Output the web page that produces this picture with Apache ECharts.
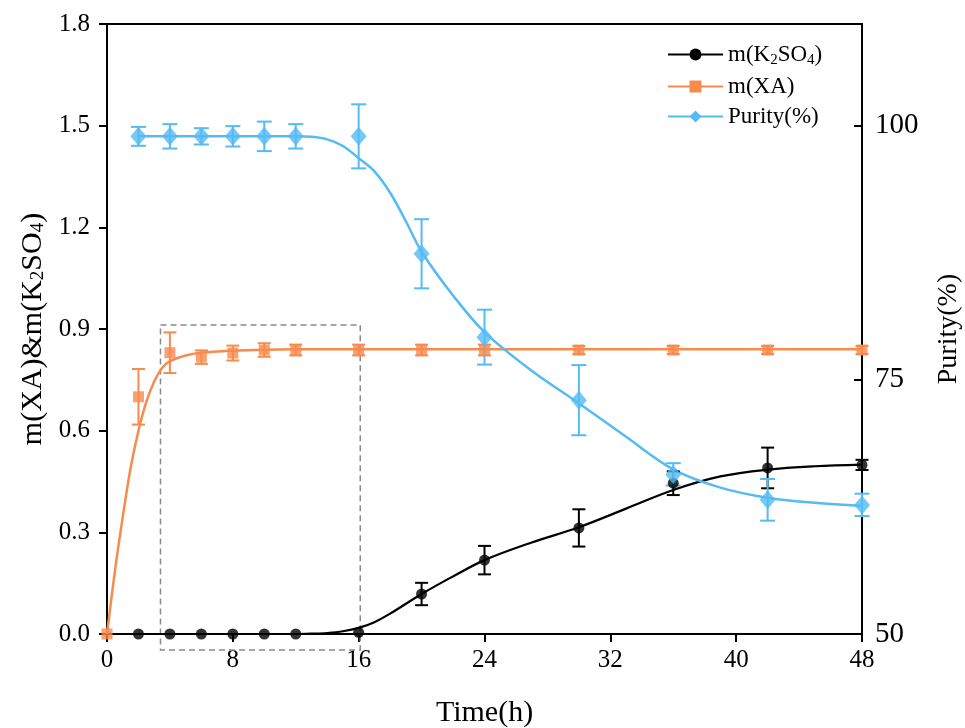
<!DOCTYPE html>
<html><head><meta charset="utf-8">
<script src="https://cdn.jsdelivr.net/npm/echarts@6/dist/echarts.min.js"></script>
<style>html,body{margin:0;padding:0;background:#fff}#c{width:965px;height:728px}</style>
</head><body><div id="c"></div>
<script>
// ---- data ----
const timeK = [2,4,6,8,10,12,16,20,24,30,36,42,48];
const k2so4 = [0,0,0,0,0,0,0.005,0.118,0.218,0.313,0.445,0.49,0.499];
const k2so4Err = [0,0,0,0,0,0,0,0.033,0.042,0.055,0.035,0.06,0.015];

const timeXA = [0,2,4,6,8,10,12,16,20,24,30,36,42,48];
const xa = [0,0.70,0.83,0.817,0.829,0.838,0.838,0.838,0.838,0.838,0.838,0.838,0.838,0.838];
const xaErr = [0,0.082,0.06,0.02,0.022,0.02,0.016,0.016,0.016,0.016,0.012,0.012,0.012,0.012];

const timeP = [2,4,6,8,10,12,16,20,24,30,36,42,48];
const purity = [98.95,98.95,98.95,98.95,98.95,98.95,98.95,87.4,79.2,73.0,65.7,63.2,62.7];
const purityErr = [0.93,1.2,0.8,1.0,1.45,1.2,3.15,3.4,2.7,3.45,1.1,2.05,1.1];

// fitted curves
const kFitT = [0,12,13,14,15,16,17,18,20,22,24,27,30,33,36,39,42,45,48];
const kFit = [0,0,0.001,0.003,0.008,0.018,0.035,0.06,0.118,0.17,0.218,0.27,0.315,0.37,0.425,0.465,0.485,0.495,0.5];
const xaFitT = [0,0.5,1,1.5,2,2.5,3,3.5,4,5,6,8,10,12,48];
const xaFit = [0,0.185,0.345,0.49,0.6,0.685,0.745,0.785,0.805,0.822,0.83,0.836,0.839,0.84,0.84];
const purFitT = [2,12,13,14,15,16,17,18,19,20,22,24,27,30,33,36,39,42,45,48];
const purFit = [98.95,98.95,98.9,98.65,98.0,96.8,95.5,93.4,90.6,87.6,83.3,79.7,75.9,72.7,69.4,66.2,64.4,63.4,62.9,62.6];

// dashed highlight box (data coords)
const boxT = [3.4, 16.1];
const boxV = [-0.047, 0.912];

const xTicks = [0,8,16,24,32,40,48];
const leftTicks = [0,0.3,0.6,0.9,1.2,1.5,1.8];
const rightTicks = [50,75,100];

const BLACK = '#000000', ORANGE = '#F78A4D', BLUE = '#55BBF3';
const FONT = 'Liberation Serif';

function pairs(ts, vs){ return ts.map((t,i)=>[t, vs[i]]); }

function errSeries(ts, vs, es, color, yAxisIndex, capW, z){
  return {
    type:'custom', yAxisIndex, z, silent:true, clip:false,
    data: ts.map((t,i)=>[t, vs[i], es[i]]),
    renderItem: function(params, api){
      const t = api.value(0), v = api.value(1), e = api.value(2);
      if (!e) return null;
      const a = api.coord([t, v+e]), b = api.coord([t, v-e]);
      const st = {stroke: color, lineWidth: 2};
      return {type:'group', children:[
        {type:'line', shape:{x1:a[0], y1:a[1], x2:b[0], y2:b[1]}, style:st},
        {type:'line', shape:{x1:a[0]-capW/2, y1:a[1], x2:a[0]+capW/2, y2:a[1]}, style:st},
        {type:'line', shape:{x1:b[0]-capW/2, y1:b[1], x2:b[0]+capW/2, y2:b[1]}, style:st}
      ]};
    }
  };
}

const rich = {
  n: {fontFamily: FONT, fontSize: 23, color:'#000'},
  s: {fontFamily: FONT, fontSize: 15, color:'#000', padding:[12,0,0,0]}
};
const axisRich = {
  n: {fontFamily: FONT, fontSize: 30, color:'#000'},
  s: {fontFamily: FONT, fontSize: 19, color:'#000', verticalAlign:'bottom'}
};

const chart = echarts.init(document.getElementById('c'), null, {renderer:'canvas'});
chart.setOption({
  animation:false,
  backgroundColor:'#fff',
  grid:{left:107, right:103, top:24, bottom:94, show:true, borderColor:'#000', borderWidth:2,
    containLabel:false, outerBoundsMode:'none'},
  legend:{
    data:['m(K2SO4)','m(XA)','Purity(%)'],
    orient:'vertical', left:662, top:38, itemWidth:55, itemHeight:15, itemGap:7,
    textStyle:{fontFamily:FONT, fontSize:23, color:'#000', rich},
    formatter: function(name){
      if (name==='m(K2SO4)') return '{n|m(K}{s|2}{n|SO}{s|4}{n|)}';
      return '{n|'+name+'}';
    }
  },
  xAxis:{
    type:'value', min:0, max:48, interval:8,
    name:'Time(h)', nameLocation:'middle', nameGap:64,
    nameTextStyle:{fontFamily:FONT, fontSize:30, color:'#000'},
    axisLine:{lineStyle:{color:'#000', width:2}},
    axisTick:{length:8, lineStyle:{color:'#000', width:2}, customValues:xTicks},
    axisLabel:{fontFamily:FONT, fontSize:25, color:'#000', margin:14, customValues:xTicks},
    splitLine:{show:false}
  },
  yAxis:[{
    type:'value', min:0, max:1.8, interval:0.3, position:'left',
    name:'{n|m(XA)&m(K}{s|2}{n|SO}{s|4}{n|)}', nameLocation:'middle', nameGap:57,
    nameTextStyle:{fontFamily:FONT, fontSize:30, color:'#000', rich:axisRich},
    axisLine:{show:true, lineStyle:{color:'#000', width:2}},
    axisTick:{show:true, length:8, lineStyle:{color:'#000', width:2}, customValues:leftTicks},
    axisLabel:{fontFamily:FONT, fontSize:25, color:'#000', margin:17, customValues:leftTicks,
      formatter:v=>Number(v).toFixed(1)},
    splitLine:{show:false}
  },{
    type:'value', min:50, max:110, interval:25, position:'right',
    name:'Purity(%)', nameLocation:'middle', nameGap:73,
    nameTextStyle:{fontFamily:FONT, fontSize:28, color:'#000'},
    axisLine:{show:true, lineStyle:{color:'#000', width:2}},
    axisTick:{show:true, inside:true, length:8, lineStyle:{color:'#000', width:2}, customValues:rightTicks},
    axisLabel:{fontFamily:FONT, fontSize:29, color:'#000', margin:13, customValues:rightTicks},
    splitLine:{show:false}
  }],
  series:[
    {name:'m(K2SO4)', type:'line', yAxisIndex:0, data:pairs(kFitT,kFit), smooth:0.35,
      symbol:'circle', showSymbol:false, lineStyle:{color:BLACK, width:2.2}, itemStyle:{color:BLACK}, z:3},
    {name:'m(XA)', type:'line', yAxisIndex:0, data:pairs(xaFitT,xaFit), smooth:0.35,
      symbol:'rect', showSymbol:false, lineStyle:{color:ORANGE, width:2.5}, itemStyle:{color:ORANGE}, z:4},
    {name:'Purity(%)', type:'line', yAxisIndex:1, data:pairs(purFitT,purFit), smooth:0.35,
      symbol:'diamond', showSymbol:false, lineStyle:{color:BLUE, width:2.5}, itemStyle:{color:BLUE}, z:5},
    errSeries(timeK, k2so4, k2so4Err, BLACK, 0, 13, 6),
    errSeries(timeXA, xa, xaErr, ORANGE, 0, 13, 7),
    errSeries(timeP, purity, purityErr, BLUE, 1, 15, 8),
    {name:'kPts', type:'scatter', yAxisIndex:0, data:pairs(timeK,k2so4), symbol:'circle', symbolSize:11,
      itemStyle:{color:BLACK}, z:9, clip:false},
    {name:'xaPts', type:'scatter', yAxisIndex:0, data:pairs(timeXA,xa), symbol:'rect', symbolSize:11,
      itemStyle:{color:ORANGE}, z:10, clip:false},
    {name:'pPts', type:'scatter', yAxisIndex:1, data:pairs(timeP,purity), symbol:'diamond', symbolSize:[16,19],
      itemStyle:{color:BLUE}, z:11, clip:false},
    {name:'box', type:'custom', yAxisIndex:0, silent:true, clip:false, z:2,
      data:[[boxT[0], boxV[0], boxT[1], boxV[1]]],
      renderItem:function(params, api){
        const p0 = api.coord([api.value(0), api.value(3)]);
        const p1 = api.coord([api.value(2), api.value(1)]);
        return {type:'rect', shape:{x:p0[0], y:p0[1], width:p1[0]-p0[0], height:p1[1]-p0[1]},
          style:{fill:'none', stroke:'#8a8a8a', lineWidth:1.5, lineDash:[6,4]}};
      }}
  ]
});
</script></body></html>
